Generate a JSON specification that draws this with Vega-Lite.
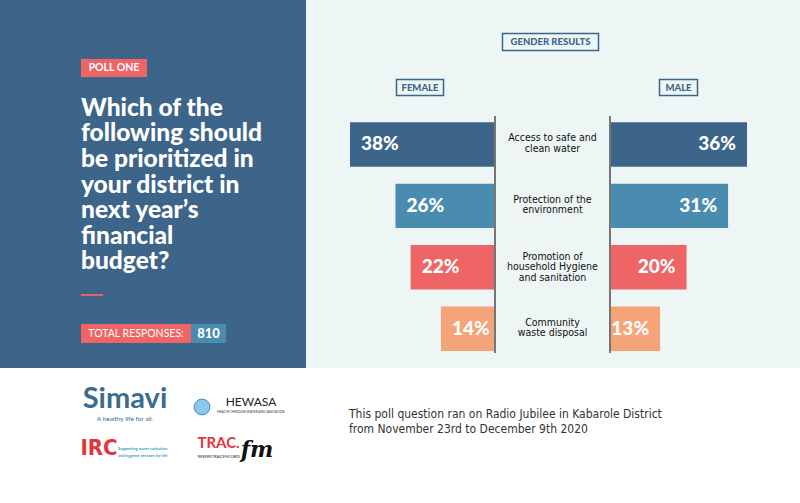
{
  "$schema": "https://vega.github.io/schema/vega-lite/v6.json",
  "background": "white",
  "padding": 0,
  "config": {"view": {"stroke": null}, "concat": {"spacing": 0}, "font": "Lato"},
  "datasets": {
    "poll": [
      {"option": "Access to safe and clean water", "gender": "Female", "share": 0.38},
      {"option": "Access to safe and clean water", "gender": "Male", "share": 0.36},
      {"option": "Protection of the environment", "gender": "Female", "share": 0.26},
      {"option": "Protection of the environment", "gender": "Male", "share": 0.31},
      {"option": "Promotion of household Hygiene and sanitation", "gender": "Female", "share": 0.22},
      {"option": "Promotion of household Hygiene and sanitation", "gender": "Male", "share": 0.20},
      {"option": "Community waste disposal", "gender": "Female", "share": 0.14},
      {"option": "Community waste disposal", "gender": "Male", "share": 0.13}
    ],
    "options": [
      {"option": "Access to safe and clean water", "lines": ["Access to safe and", "clean water"]},
      {"option": "Protection of the environment", "lines": ["Protection of the", "environment"]},
      {"option": "Promotion of household Hygiene and sanitation", "lines": ["Promotion of", "household Hygiene", "and sanitation"]},
      {"option": "Community waste disposal", "lines": ["Community", "waste disposal"]}
    ]
  },
  "vconcat": [
    {
      "hconcat": [
        {
          "vconcat": [
            {"width": 306, "height": 59, "view": {"fill": "#3d6489"}, "data": {"values": []}, "mark": "point"},
            {
              "bounds": "flush",
              "hconcat": [
                {"width": 81, "height": 18, "view": {"fill": "#3d6489"}, "data": {"values": []}, "mark": "point"},
                {"width": 66, "height": 18, "view": {"fill": "#ef6566"}, "data": {"values": [{"t": "POLL ONE"}]},
                 "mark": {"type": "text", "fontWeight": "bold", "fontSize": 10.5, "fill": "white"},
                 "encoding": {"text": {"field": "t"}}},
                {"width": 159, "height": 18, "view": {"fill": "#3d6489"}, "data": {"values": []}, "mark": "point"}
              ]
            },
            {"width": 306, "height": 15, "view": {"fill": "#3d6489"}, "data": {"values": []}, "mark": "point"},
            {
              "bounds": "flush",
              "hconcat": [
                {"width": 81, "height": 187, "view": {"fill": "#3d6489"}, "data": {"values": []}, "mark": "point"},
                {"width": 225, "height": 187, "view": {"fill": "#3d6489"},
                 "data": {"values": [
                   {"line": 1, "t": "Which of the"},
                   {"line": 2, "t": "following should"},
                   {"line": 3, "t": "be prioritized in"},
                   {"line": 4, "t": "your district in"},
                   {"line": 5, "t": "next year’s"},
                   {"line": 6, "t": "financial"},
                   {"line": 7, "t": "budget?"}
                 ]},
                 "mark": {"type": "text", "align": "left", "baseline": "middle", "fontWeight": 900, "fontSize": 24.5, "fill": "white"},
                 "encoding": {
                   "x": {"datum": 0, "type": "quantitative", "scale": {"domain": [0, 1]}, "axis": null},
                   "y": {"field": "line", "type": "ordinal", "scale": {"type": "point", "padding": 0.657}, "axis": null},
                   "text": {"field": "t"}
                 }}
              ]
            },
            {"width": 306, "height": 15, "view": {"fill": "#3d6489"}, "data": {"values": []}, "mark": "point"},
            {
              "bounds": "flush",
              "hconcat": [
                {"width": 81, "height": 2, "view": {"fill": "#3d6489"}, "data": {"values": []}, "mark": "point"},
                {"width": 22, "height": 2, "view": {"fill": "#e5626b"}, "data": {"values": []}, "mark": "point"},
                {"width": 203, "height": 2, "view": {"fill": "#3d6489"}, "data": {"values": []}, "mark": "point"}
              ]
            },
            {"width": 306, "height": 28, "view": {"fill": "#3d6489"}, "data": {"values": []}, "mark": "point"},
            {
              "bounds": "flush",
              "hconcat": [
                {"width": 81, "height": 19, "view": {"fill": "#3d6489"}, "data": {"values": []}, "mark": "point"},
                {"width": 110, "height": 19, "view": {"fill": "#ef6566"}, "data": {"values": [{"t": "TOTAL RESPONSES:"}]},
                 "mark": {"type": "text", "fontSize": 10.5, "fill": "white"},
                 "encoding": {"text": {"field": "t"}}},
                {"width": 35, "height": 19, "view": {"fill": "#4a8cb0"}, "data": {"values": [{"t": "810"}]},
                 "mark": {"type": "text", "fontWeight": 900, "fontSize": 13, "fill": "white"},
                 "encoding": {"text": {"field": "t"}}},
                {"width": 80, "height": 19, "view": {"fill": "#3d6489"}, "data": {"values": []}, "mark": "point"}
              ]
            },
            {"width": 306, "height": 25, "view": {"fill": "#3d6489"}, "data": {"values": []}, "mark": "point"}
          ]
        },
        {
          "vconcat": [
            {"width": 494, "height": 32, "view": {"fill": "#eef6f5"}, "data": {"values": []}, "mark": "point"},
            {
              "bounds": "flush",
              "hconcat": [
                {"width": 195, "height": 20, "view": {"fill": "#eef6f5"}, "data": {"values": []}, "mark": "point"},
                {"width": 99, "height": 20, "view": {"fill": "#eef6f5"}, "data": {"values": [{"t": "GENDER RESULTS"}]},
                 "layer": [
                   {"mark": {"type": "rect", "fill": "transparent", "stroke": "#3d6489", "strokeWidth": 1.5},
                    "encoding": {
                      "x": {"datum": 0, "type": "quantitative", "scale": {"domain": [0, 1], "padding": 1.5, "nice": false, "zero": false}, "axis": null},
                      "x2": {"datum": 1},
                      "y": {"datum": 0, "type": "quantitative", "scale": {"domain": [0, 1], "padding": 1.5, "nice": false, "zero": false}, "axis": null},
                      "y2": {"datum": 1}
                    }},
                   {"mark": {"type": "text", "fontWeight": 900, "fontSize": 9.5, "fill": "#3d6489"},
                    "encoding": {"text": {"field": "t"}}}
                 ]},
                {"width": 200, "height": 20, "view": {"fill": "#eef6f5"}, "data": {"values": []}, "mark": "point"}
              ]
            },
            {"width": 494, "height": 26, "view": {"fill": "#eef6f5"}, "data": {"values": []}, "mark": "point"},
            {
              "bounds": "flush",
              "hconcat": [
                {"width": 89, "height": 19, "view": {"fill": "#eef6f5"}, "data": {"values": []}, "mark": "point"},
                {"width": 50, "height": 19, "view": {"fill": "#eef6f5"}, "data": {"values": [{"t": "FEMALE"}]},
                 "layer": [
                   {"mark": {"type": "rect", "fill": "transparent", "stroke": "#3d6489", "strokeWidth": 1.5},
                    "encoding": {
                      "x": {"datum": 0, "type": "quantitative", "scale": {"domain": [0, 1], "padding": 1.5, "nice": false, "zero": false}, "axis": null},
                      "x2": {"datum": 1},
                      "y": {"datum": 0, "type": "quantitative", "scale": {"domain": [0, 1], "padding": 1.5, "nice": false, "zero": false}, "axis": null},
                      "y2": {"datum": 1}
                    }},
                   {"mark": {"type": "text", "fontWeight": 900, "fontSize": 9.5, "fill": "#3d6489"},
                    "encoding": {"text": {"field": "t"}}}
                 ]},
                {"width": 213, "height": 19, "view": {"fill": "#eef6f5"}, "data": {"values": []}, "mark": "point"},
                {"width": 41, "height": 19, "view": {"fill": "#eef6f5"}, "data": {"values": [{"t": "MALE"}]},
                 "layer": [
                   {"mark": {"type": "rect", "fill": "transparent", "stroke": "#3d6489", "strokeWidth": 1.5},
                    "encoding": {
                      "x": {"datum": 0, "type": "quantitative", "scale": {"domain": [0, 1], "padding": 1.5, "nice": false, "zero": false}, "axis": null},
                      "x2": {"datum": 1},
                      "y": {"datum": 0, "type": "quantitative", "scale": {"domain": [0, 1], "padding": 1.5, "nice": false, "zero": false}, "axis": null},
                      "y2": {"datum": 1}
                    }},
                   {"mark": {"type": "text", "fontWeight": 900, "fontSize": 9.5, "fill": "#3d6489"},
                    "encoding": {"text": {"field": "t"}}}
                 ]},
                {"width": 101, "height": 19, "view": {"fill": "#eef6f5"}, "data": {"values": []}, "mark": "point"}
              ]
            },
            {"width": 494, "height": 19, "view": {"fill": "#eef6f5"}, "data": {"values": []}, "mark": "point"},
            {
              "bounds": "flush",
              "hconcat": [
                {"width": 44, "height": 237, "view": {"fill": "#eef6f5"}, "data": {"values": []}, "mark": "point"},
                {"width": 144, "height": 237, "view": {"fill": "#eef6f5"},
                 "data": {"name": "poll"},
                 "transform": [{"filter": "datum.gender === 'Female'"}],
                 "encoding": {
                   "y": {"field": "option", "type": "nominal", "axis": null,
                         "scale": {"domain": ["Access to safe and clean water", "Protection of the environment", "Promotion of household Hygiene and sanitation", "Community waste disposal"],
                                   "paddingInner": 0.277, "paddingOuter": 0.0684, "align": 0.75}},
                   "x": {"field": "share", "type": "quantitative", "axis": null, "scale": {"domain": [0, 0.38], "reverse": true, "nice": false}}
                 },
                 "layer": [
                   {"mark": {"type": "bar"},
                    "encoding": {"color": {"field": "option", "type": "nominal", "legend": null,
                      "scale": {"domain": ["Access to safe and clean water", "Protection of the environment", "Promotion of household Hygiene and sanitation", "Community waste disposal"],
                                "range": ["#3d6489", "#4a8cb0", "#ef6566", "#f5a47a"]}}}},
                   {"mark": {"type": "text", "align": "left", "baseline": "middle", "dx": 11, "fontWeight": 900, "fontSize": 19, "fill": "white"},
                    "encoding": {"text": {"field": "share", "type": "quantitative", "format": ".0%"}}}
                 ]},
                {"width": 2, "height": 237, "view": {"fill": "#767676"}, "data": {"values": []}, "mark": "point"},
                {"width": 113, "height": 237, "view": {"fill": "#eef6f5"},
                 "data": {"name": "options"},
                 "encoding": {
                   "y": {"field": "option", "type": "nominal", "axis": null,
                         "scale": {"type": "band", "domain": ["Access to safe and clean water", "Protection of the environment", "Promotion of household Hygiene and sanitation", "Community waste disposal"],
                                   "paddingInner": 0.277, "paddingOuter": 0.0684, "align": 0.75}},
                   "text": {"field": "lines"}
                 },
                 "layer": [
                   {"transform": [{"filter": "length(datum.lines) === 2"}],
                    "mark": {"type": "text", "baseline": "middle", "dy": -6, "font": "DejaVu Sans Condensed", "fontSize": 10.5, "lineHeight": 10.5, "fill": "#111111"}},
                   {"transform": [{"filter": "length(datum.lines) === 3"}],
                    "mark": {"type": "text", "baseline": "middle", "dy": -10.5, "font": "DejaVu Sans Condensed", "fontSize": 10.5, "lineHeight": 10.5, "fill": "#111111"}}
                 ]},
                {"width": 2, "height": 237, "view": {"fill": "#767676"}, "data": {"values": []}, "mark": "point"},
                {"width": 136, "height": 237, "view": {"fill": "#eef6f5"},
                 "data": {"name": "poll"},
                 "transform": [{"filter": "datum.gender === 'Male'"}],
                 "encoding": {
                   "y": {"field": "option", "type": "nominal", "axis": null,
                         "scale": {"domain": ["Access to safe and clean water", "Protection of the environment", "Promotion of household Hygiene and sanitation", "Community waste disposal"],
                                   "paddingInner": 0.277, "paddingOuter": 0.0684, "align": 0.75}},
                   "x": {"field": "share", "type": "quantitative", "axis": null, "scale": {"domain": [0, 0.36], "nice": false}}
                 },
                 "layer": [
                   {"mark": {"type": "bar"},
                    "encoding": {"color": {"field": "option", "type": "nominal", "legend": null,
                      "scale": {"domain": ["Access to safe and clean water", "Protection of the environment", "Promotion of household Hygiene and sanitation", "Community waste disposal"],
                                "range": ["#3d6489", "#4a8cb0", "#ef6566", "#f5a47a"]}}}},
                   {"mark": {"type": "text", "align": "right", "baseline": "middle", "dx": -11, "fontWeight": 900, "fontSize": 19, "fill": "white"},
                    "encoding": {"text": {"field": "share", "type": "quantitative", "format": ".0%"}}}
                 ]},
                {"width": 53, "height": 237, "view": {"fill": "#eef6f5"}, "data": {"values": []}, "mark": "point"}
              ]
            },
            {"width": 494, "height": 15, "view": {"fill": "#eef6f5"}, "data": {"values": []}, "mark": "point"}
          ]
        }
      ]
    },
    {
      "hconcat": [
        {"width": 80, "height": 135, "data": {"values": []}, "mark": "point"},
        {
          "vconcat": [
            {"width": 88, "height": 15, "data": {"values": []}, "mark": "point"},
            {"width": 88, "height": 32, "data": {"values": [{"t": "Simavi"}]},
             "mark": {"type": "text", "baseline": "middle", "fontWeight": "bold", "fontSize": 29, "fill": "#3d6b8b"},
             "encoding": {"text": {"field": "t"}}},
            {"width": 88, "height": 8, "data": {"values": [{"t": "A healthy life for all."}]},
             "mark": {"type": "text", "baseline": "middle", "fontSize": 6.5, "fill": "#3d6b8b"},
             "encoding": {"text": {"field": "t"}}},
            {"width": 88, "height": 12, "data": {"values": []}, "mark": "point"},
            {
              "hconcat": [
                {"width": 36, "height": 26, "data": {"values": [{"t": "IRC"}]},
                 "mark": {"type": "text", "baseline": "middle", "font": "DejaVu Sans Condensed", "fontWeight": "bold", "fontSize": 22, "fill": "#e1343b"},
                 "encoding": {"text": {"field": "t"}}},
                {
                  "bounds": "flush",
                  "vconcat": [
                    {"width": 66, "height": 11, "data": {"values": []}, "mark": "point"},
                    {"width": 66, "height": 13,
                     "data": {"values": [{"line": 1, "t": "Supporting water sanitation"}, {"line": 2, "t": "and hygiene services for life"}]},
                     "mark": {"type": "text", "align": "left", "baseline": "middle", "fontWeight": "bold", "fontSize": 4, "fill": "#2a9fb6"},
                     "encoding": {
                       "x": {"datum": 0, "type": "quantitative", "scale": {"domain": [0, 1]}, "axis": null},
                       "y": {"field": "line", "type": "ordinal", "scale": {"type": "point", "padding": 0.5}, "axis": null},
                       "text": {"field": "t"}
                     }},
                    {"width": 66, "height": 2, "data": {"values": []}, "mark": "point"}
                  ]
                }
              ]
            },
            {"width": 88, "height": 42, "data": {"values": []}, "mark": "point"}
          ]
        },
        {"width": 8, "height": 135, "data": {"values": []}, "mark": "point"},
        {
          "vconcat": [
            {"width": 103, "height": 28, "data": {"values": []}, "mark": "point"},
            {
              "bounds": "flush",
              "hconcat": [
                {"width": 20, "height": 20, "data": {"values": [{"t": "HEWASA"}]},
                 "mark": {"type": "point", "shape": "circle", "filled": true, "size": 250, "fill": "#8cc8ea", "stroke": "#3f8fc5", "strokeWidth": 1, "opacity": 1}},
                {"width": 3, "height": 20, "data": {"values": []}, "mark": "point"},
                {"width": 72, "height": 20,
                 "layer": [
                   {"data": {"values": [{"line": 1, "t": "HEWASA"}]},
                    "mark": {"type": "text", "baseline": "middle", "fontSize": 12, "fill": "#222222"},
                    "encoding": {
                      "y": {"field": "line", "type": "ordinal", "scale": {"type": "point", "padding": 0.5, "domain": [1, 2]}, "axis": null},
                      "text": {"field": "t"}
                    }},
                   {"data": {"values": [{"line": 2, "t": "HEALTH THROUGH WATER AND SANITATION"}]},
                    "mark": {"type": "text", "baseline": "middle", "fontSize": 3.2, "fill": "#333333"},
                    "encoding": {
                      "y": {"field": "line", "type": "ordinal"},
                      "text": {"field": "t"}
                    }}
                 ]},
                {"width": 8, "height": 20, "data": {"values": []}, "mark": "point"}
              ]
            },
            {"width": 103, "height": 19, "data": {"values": []}, "mark": "point"},
            {
              "bounds": "flush",
              "hconcat": [
                {"width": 5, "height": 28, "data": {"values": []}, "mark": "point"},
                {"width": 43, "height": 28,
                 "layer": [
                   {"data": {"values": [{"line": 1, "t": "TRAC."}]},
                    "mark": {"type": "text", "baseline": "middle", "fontWeight": "bold", "fontSize": 15, "fill": "#e1343b"},
                    "encoding": {
                      "y": {"field": "line", "type": "ordinal", "scale": {"type": "point", "padding": 0.5, "domain": [1, 2]}, "axis": null},
                      "text": {"field": "t"}
                    }},
                   {"data": {"values": [{"line": 2, "t": "WWW.TRACFM.ORG"}]},
                    "mark": {"type": "text", "baseline": "middle", "fontSize": 4.4, "fill": "#222222"},
                    "encoding": {
                      "y": {"field": "line", "type": "ordinal"},
                      "text": {"field": "t"}
                    }}
                 ]},
                {"width": 34, "height": 28, "data": {"values": [{"t": "fm"}]},
                 "mark": {"type": "text", "baseline": "middle", "font": "DejaVu Serif", "fontStyle": "italic", "fontWeight": "bold", "fontSize": 22, "fill": "#111111"},
                 "encoding": {"text": {"field": "t"}}},
                {"width": 21, "height": 28, "data": {"values": []}, "mark": "point"}
              ]
            },
            {"width": 103, "height": 40, "data": {"values": []}, "mark": "point"}
          ]
        },
        {"width": 54, "height": 135, "data": {"values": []}, "mark": "point"},
        {
          "bounds": "flush",
          "vconcat": [
            {"width": 453, "height": 38, "data": {"values": []}, "mark": "point"},
            {"width": 453, "height": 30,
             "data": {"values": [
               {"line": 1, "t": "This poll question ran on Radio Jubilee in Kabarole District"},
               {"line": 2, "t": "from November 23rd to December 9th 2020"}
             ]},
             "mark": {"type": "text", "align": "left", "baseline": "middle", "font": "DejaVu Sans Condensed", "fontSize": 12, "fill": "#333333"},
             "encoding": {
               "x": {"datum": 0, "type": "quantitative", "scale": {"domain": [0, 1]}, "axis": null},
               "y": {"field": "line", "type": "ordinal", "scale": {"type": "point", "padding": 0.5}, "axis": null},
               "text": {"field": "t"}
             }},
            {"width": 453, "height": 67, "data": {"values": []}, "mark": "point"}
          ]
        }
      ]
    }
  ]
}
